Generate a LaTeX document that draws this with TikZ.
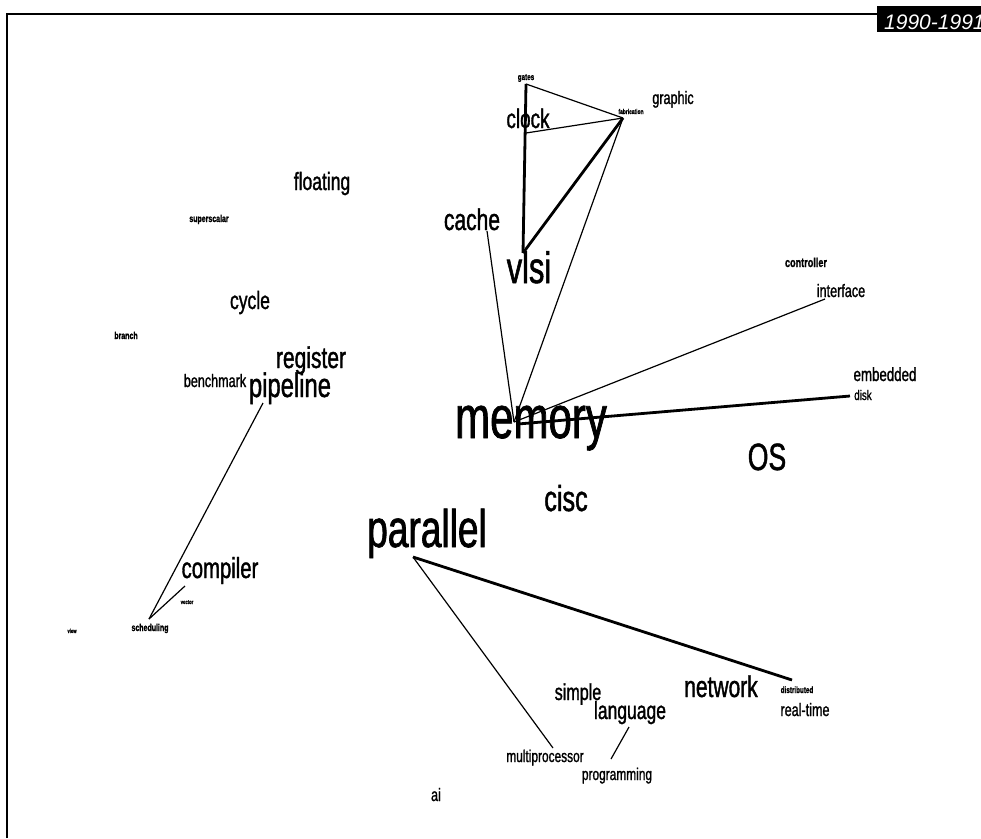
\documentclass[tikz,border=0pt]{standalone}
\usepackage{fontspec}
\setmainfont{Liberation Sans}[FakeStretch=0.7, FakeBold=1.2]
\newfontfamily\yearfont{Liberation Sans}
\begin{document}
\begin{tikzpicture}[x=1pt,y=-1pt,
  w/.style={font=\fontsize{#1}{#1}\selectfont, inner sep=0pt, anchor=base},
  wb/.style={font=\fontsize{#1}{#1}\selectfont\bfseries, inner sep=0pt, anchor=base},
  thinlink/.style={line width=1.2pt},
  heavylink/.style={line width=2.8pt},
  frameline/.style={line width=2pt}]
\useasboundingbox (0,0) rectangle (981,838);

% frame and year tab
\draw[frameline] (7,838) -- (7,14) -- (877,14);
\fill[black] (877,6) rectangle (990,32);
\node[anchor=base west, inner sep=0pt, text=white,
      font=\yearfont\itshape\fontsize{21}{21}\selectfont] (year) at (884,29) {1990-1991};

% terms
\node[wb=9]  (gates)       at (526,80)  {gates};
\node[wb=7]  (fabrication) at (631,114) {fabrication};
\node[w=18]  (graphic)     at (673,104) {graphic};
\node[w=27]  (clock)       at (528,128) {clock};
\node[w=25]  (floating)    at (322,190) {floating};
\node[wb=10] (superscalar) at (209,222) {superscalar};
\node[w=30]  (cache)       at (472,230) {cache};
\node[w=44]  (vlsi)        at (529,283) {vlsi};
\node[wb=13] (controller)  at (806,267) {controller};
\node[w=18]  (interface)   at (841,297) {interface};
\node[w=25]  (cycle)       at (250,309) {cycle};
\node[wb=10] (branch)      at (126,339) {branch};
\node[w=30]  (register)    at (311,368) {register};
\node[w=18]  (benchmark)   at (215,387) {benchmark};
\node[w=34]  (pipeline)    at (290,397) {pipeline};
\node[w=19]  (embedded)    at (885,381) {embedded};
\node[w=14]  (disk)        at (863,400) {disk};
\node[w=60]  (memory)      at (531,438) {memory};
\node[w=38]  (OS)          at (767,470) {OS};
\node[w=36]  (cisc)        at (566,511) {cisc};
\node[w=53]  (parallel)    at (427,547) {parallel};
\node[w=29]  (compiler)    at (220,578) {compiler};
\node[wb=6]  (vector)      at (187,604) {vector};
\node[wb=10] (scheduling)  at (150,631) {scheduling};
\node[wb=6]  (view)        at (72,633)  {view};
\node[w=23]  (simple)      at (578,700) {simple};
\node[w=25]  (language)    at (630,719) {language};
\node[w=30]  (network)     at (721,697) {network};
\node[wb=9]  (distributed) at (797,693) {distributed};
\node[w=18]  (realtime)    at (805,716) {real-time};
\node[w=17]  (multiprocessor) at (545,762) {multiprocessor};
\node[w=17]  (programming) at (617,780) {programming};
\node[w=18]  (ai)          at (436,801) {ai};

% attachment points of the links
\coordinate (p-gates)   at (526,84);
\coordinate (p-fab)     at (623,118);
\coordinate (p-clock)   at (526,133);
\coordinate (p-vlsi)    at (523,253);
\coordinate (p-cache)   at (487,231);
\coordinate (p-mem)     at (514,422);
\coordinate (p-memr)    at (518,424);
\coordinate (p-iface)   at (825,299);
\coordinate (p-disk)    at (850,396);
\coordinate (p-pipe)    at (263,403);
\coordinate (p-comp)    at (185,586);
\coordinate (p-sched)   at (149,619);
\coordinate (p-par)     at (413,557);
\coordinate (p-dist)    at (792,680);
\coordinate (p-multi)   at (553,748);
\coordinate (p-lang)    at (629,727);
\coordinate (p-prog)    at (611,759);

% links
\draw[thinlink]  (p-gates) -- (p-fab);
\draw[heavylink] (p-gates) -- (p-vlsi);
\draw[thinlink]  (p-clock) -- (p-fab);
\draw[heavylink] (p-vlsi) -- (p-fab);
\draw[thinlink]  (p-fab) -- (p-mem);
\draw[thinlink]  (p-cache) -- (p-mem);
\draw[thinlink]  (p-mem) -- (p-iface);
\draw[heavylink] (p-memr) -- (p-disk);
\draw[thinlink]  (p-pipe) -- (p-sched);
\draw[thinlink]  (p-comp) -- (p-sched);
\draw[heavylink] (p-par) -- (p-dist);
\draw[thinlink]  (p-par) -- (p-multi);
\draw[thinlink]  (p-lang) -- (p-prog);
\end{tikzpicture}
\end{document}
